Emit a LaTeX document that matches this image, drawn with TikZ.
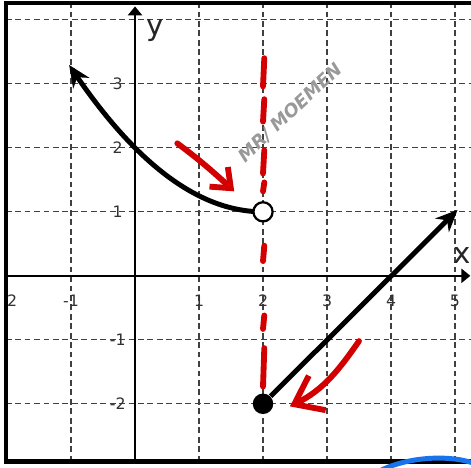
\documentclass[tikz,border=0pt]{standalone}
\usepackage{fontspec}
\setsansfont{DejaVu Sans}
\usetikzlibrary{arrows.meta}
\definecolor{penred}{RGB}{210,0,0}
\definecolor{penblue}{RGB}{25,115,235}
\begin{document}
\begin{tikzpicture}[x=1cm, y=1cm,
    gridline/.style={black!75, line width=0.5pt, dash pattern=on 2.6pt off 1.6pt},
    axis/.style={line width=0.9pt, -{Triangle[length=1.4mm,width=2.2mm]}},
    tick/.style={font=\sffamily\fontsize{7}{8}\selectfont, text=black!80, inner sep=1pt},
    axlabel/.style={font=\sffamily\fontsize{13}{14}\selectfont, text=black!85},
    graph/.style={line width=2.2pt, -{Stealth[length=3.4mm,width=3mm]}},
    hole/.style={circle, draw, line width=1pt, fill=white, minimum size=3mm, inner sep=0pt},
    dot/.style={circle, fill, minimum size=3.2mm, inner sep=0pt},
    redpen/.style={penred, line width=2.6pt, line cap=round}]
    \useasboundingbox (-2.11,-2.99) rectangle (5.25,4.31);
    \clip (-2.11,-2.99) rectangle (5.25,4.31);
    % grid and frame
    \foreach \x in {-1,1,2,3,4,5} \draw[gridline] (\x,-2.9) -- (\x,4.26);
    \foreach \y in {-2,-1,1,2,3,4} \draw[gridline] (-2.02,\y) -- (5.25,\y);
    \draw[line width=2pt] (5.3,4.26) -- (-2.02,4.26) -- (-2.02,-2.9) -- (5.3,-2.9);
    \draw[axis] (-2.02,0) -- (5.24,0);
    \draw[axis] (0,-2.9) -- (0,4.21);
    \node[axlabel] (ylab) at (0.31,3.84) {y};
    \node[axlabel] (xlab) at (5.11,0.31) {x};
    % tick labels
    \node[tick] (xtm2) at (-1.92,-0.39) {2};
    \foreach \x/\t in {-1/-1,1/1,2/2,3/3,4/4,5/5} \node[tick] (xt\x) at (\x,-0.39) {\t};
    \foreach \y/\t in {3/3,2/2,1/1,-1/-1,-2/-2} \node[tick] (yt\y) at (-0.27,\y) {\t};
    % the function
    \draw[graph] plot[smooth, samples=40, domain=2:-1.03] (\x,{(\x-2)^2/4+1});
    \node[hole] (hole) at (2,1) {};
    \node[dot] (start) at (2,-2) {};
    \coordinate (rayend) at (5.04,1.03);
    \draw[graph] (start) -- (rayend);
    % pen marks
    \foreach \a/\b in {3.40/2.96,2.76/2.41,1.96/1.60,1.46/1.32,0.47/0.23,-0.62/-0.83,-1.13/-1.73}
        \draw[redpen] (2.02,\a) -- (2,\b);
    \draw[redpen, -{Straight Barb[length=2.6mm,width=4.2mm]}] (0.66,2.07) .. controls (1.0,1.82) and (1.25,1.6) .. (1.55,1.32);
    \draw[redpen, -{Straight Barb[length=4mm,width=6mm]}] (3.5,-1.02) .. controls (3.2,-1.45) and (2.95,-1.78) .. (2.42,-2.04);
    \node[rotate=43, text=black!40, font=\sffamily\bfseries\itshape\fontsize{8}{9}\selectfont] (sign) at (2.43,2.55) {MR/ MOEMEN};
    \draw[penblue, line width=2.2pt] (3.8,-3.06) .. controls (4.3,-2.8) and (5.0,-2.8) .. (5.35,-2.95);
\end{tikzpicture}
\end{document}
